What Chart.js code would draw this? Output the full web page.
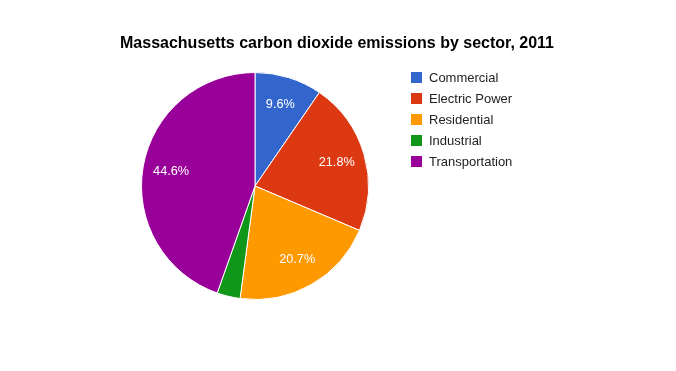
<!DOCTYPE html>
<html>
<head>
<meta charset="utf-8">
<script src="https://cdn.jsdelivr.net/npm/chart.js@4/dist/chart.umd.min.js"></script>
<style>
  html, body { margin: 0; padding: 0; background: #fff; }
  #wrap { width: 676px; height: 371px; position: relative; }
</style>
</head>
<body>
<div id="wrap"><canvas id="graficoEmisiones" width="676" height="371"></canvas></div>
<script>
const titulo = 'Massachusetts carbon dioxide emissions by sector, 2011';
const sectores = ['Commercial', 'Electric Power', 'Residential', 'Industrial', 'Transportation'];
const porcentajes = [9.6, 21.8, 20.7, 3.3, 44.6];
const colores = ['#3366cc', '#dc3912', '#ff9900', '#109618', '#990099'];

const FUENTE = 'Arial, "Liberation Sans", sans-serif';

// Titulo, etiquetas dentro de las rebanadas y leyenda a la derecha
const dibujoExtra = {
    id: 'dibujoExtra',
    afterDraw(chart) {
        const ctx = chart.ctx;
        ctx.save();

        // Titulo
        ctx.font = 'bold 16px ' + FUENTE;
        ctx.fillStyle = '#000';
        ctx.textAlign = 'center';
        ctx.textBaseline = 'middle';
        ctx.fillText(titulo, 337, 44);

        // Porcentajes dentro de cada rebanada
        const meta = chart.getDatasetMeta(0);
        const total = porcentajes.reduce((a, b) => a + b, 0);
        ctx.font = '12.7px ' + FUENTE;
        ctx.fillStyle = '#fff';
        meta.data.forEach((arc, i) => {
            const pct = porcentajes[i] / total * 100;
            if (pct < 5) return;
            const medio = (arc.startAngle + arc.endAngle) / 2;
            const r = arc.outerRadius * 0.75;
            const x = arc.x + Math.cos(medio) * r;
            const y = arc.y + Math.sin(medio) * r;
            ctx.fillText(pct.toFixed(1) + '%', x, y);
        });

        // Leyenda
        ctx.textAlign = 'left';
        ctx.font = '13px ' + FUENTE;
        sectores.forEach((nombre, i) => {
            const y = 77.5 + i * 21;
            ctx.fillStyle = colores[i];
            ctx.fillRect(411, y - 5.5, 11, 11);
            ctx.fillStyle = '#222';
            ctx.fillText(nombre, 429, y + 0.5);
        });

        ctx.restore();
    }
};

new Chart(document.getElementById('graficoEmisiones').getContext('2d'), {
    type: 'pie',
    data: {
        labels: sectores,
        datasets: [{
            data: porcentajes,
            backgroundColor: colores,
            borderColor: '#ffffff',
            borderWidth: 1
        }]
    },
    options: {
        responsive: false,
        animation: false,
        layout: {
            padding: { top: 72, bottom: 71, left: 141, right: 307 }
        },
        plugins: {
            legend: { display: false },
            title: { display: false },
            tooltip: { enabled: false }
        }
    },
    plugins: [dibujoExtra]
});
</script>
</body>
</html>
